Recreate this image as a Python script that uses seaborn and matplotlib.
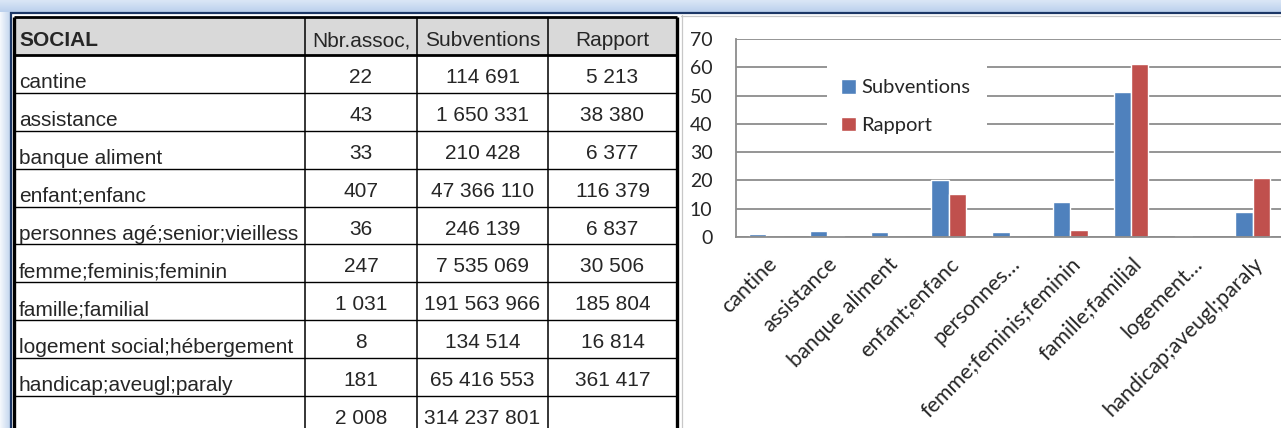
import numpy as np
import pandas as pd
import matplotlib
matplotlib.use("Agg")
import matplotlib.pyplot as plt
from matplotlib.patches import Rectangle
import seaborn as sns

# Donnees du tableau (secteur SOCIAL)
categories = ["cantine", "assistance", "banque aliment", "enfant;enfanc",
              "personnes agé;senior;vieilless", "femme;feminis;feminin",
              "famille;familial", "logement social;hébergement",
              "handicap;aveugl;paraly"]
nbr_assoc = [22, 43, 33, 407, 36, 247, 1031, 8, 181]
subventions = [114691, 1650331, 210428, 47366110, 246139, 7535069,
               191563966, 134514, 65416553]
rapport = [5213, 38380, 6377, 116379, 6837, 30506, 185804, 16814, 361417]
total_assoc = 2008
total_subventions = 314237801
headers = ["SOCIAL", "Nbr.assoc,", "Subventions", "Rapport"]

# Donnees du graphique (pourcentages)
chart_labels = ["cantine", "assistance", "banque aliment", "enfant;enfanc",
                "personnes…", "femme;feminis;feminin", "famille;familial",
                "logement…", "handicap;aveugl;paraly"]
pct_subventions = [1.1, 2.1, 1.6, 20.3, 1.8, 12.3, 51.3, 0.4, 9.0]
pct_rapport = [0.04, 0.5, 0.07, 15.1, 0.08, 2.4, 61.0, 0.04, 20.8]
series_names = ["Subventions", "Rapport"]
yticks = [0, 10, 20, 30, 40, 50, 60, 70]

W, H = 1281, 428
BLUE = "#4f81bd"
RED = "#c0504d"
GRID = "#8c8c8c"


def fmt(v):
    return f"{v:,}".replace(",", " ")


def draw_frame(ax):
    # bandeau bleu de la fenetre (haut et gauche)
    top = np.linspace(0, 1, 12)[:, None] * np.ones((1, 2))
    ax.imshow(top, extent=(0, W, 12, 0), aspect="auto",
              cmap=matplotlib.colors.LinearSegmentedColormap.from_list("t", ["#dae6f6", "#bcd1ed"]))
    left = np.ones((2, 1)) * np.linspace(0, 1, 11)[None, :]
    ax.imshow(left, extent=(0, 11, H, 12), aspect="auto",
              cmap=matplotlib.colors.LinearSegmentedColormap.from_list("l", ["#f3f7fc", "#c2d5ee"]))
    ax.plot([10, W], [12.5, 12.5], color="#1c3766", lw=1.6, solid_capstyle="butt")
    ax.plot([11, 11], [12, H], color="#1c3766", lw=1.6, solid_capstyle="butt")
    ax.plot([681, W], [15.5, 15.5], color="#c8c8c8", lw=0.9)
    ax.plot([681.5, 681.5], [15, H], color="#c8c8c8", lw=0.9)


def draw_table(ax):
    cols = [14, 305, 417, 548, 677]
    row_top = 17
    row_h = 37.9
    n_rows = len(categories) + 2
    ys = [row_top + i * row_h for i in range(n_rows + 1)]

    ax.add_patch(Rectangle((cols[0], ys[0]), cols[-1] - cols[0], row_h,
                           facecolor="#d9d9d9", edgecolor="none"))
    # lignes horizontales
    for i, y in enumerate(ys[:-1]):
        lw = 2.0 if i <= 1 else 1.0
        ax.plot([cols[0], cols[-1]], [y, y], color="black", lw=lw, solid_capstyle="butt")
    # lignes verticales
    for j, x in enumerate(cols):
        lw = 2.4 if j in (0, len(cols) - 1) else 1.1
        ax.plot([x, x], [ys[0], H], color="black", lw=lw, solid_capstyle="butt")

    font = "Liberation Sans"
    fs = 15
    # en-tetes
    hy = ys[0] + 29
    ax.text(cols[0] + 5, hy, headers[0], ha="left", va="baseline",
            fontsize=fs, fontweight="bold", family=font)
    for j in range(1, 4):
        ax.text((cols[j] + cols[j + 1]) / 2, hy, headers[j], ha="center",
                va="baseline", fontsize=fs, family=font)

    # lignes de donnees
    for i, name in enumerate(categories):
        top = ys[i + 1]
        ax.text(cols[0] + 5, top + 33, name, ha="left", va="baseline",
                fontsize=fs, family=font)
        vals = [nbr_assoc[i], subventions[i], rapport[i]]
        for j, v in enumerate(vals):
            ax.text((cols[j + 1] + cols[j + 2]) / 2, top + 28, fmt(v),
                    ha="center", va="baseline", fontsize=fs, family=font)

    # ligne des totaux
    top = ys[len(categories) + 1]
    ax.text((cols[1] + cols[2]) / 2, top + 28, fmt(total_assoc),
            ha="center", va="baseline", fontsize=fs, family=font)
    ax.text((cols[2] + cols[3]) / 2, top + 28, fmt(total_subventions),
            ha="center", va="baseline", fontsize=fs, family=font)


def draw_chart(fig):
    x0, x1, y0, y1 = 736, 1283, 39, 237
    ax = fig.add_axes([x0 / W, 1 - y1 / H, (x1 - x0) / W, (y1 - y0) / H])

    df = pd.DataFrame({
        "categorie": chart_labels * 2,
        "pourcentage": pct_subventions + pct_rapport,
        "serie": [series_names[0]] * len(chart_labels) + [series_names[1]] * len(chart_labels),
    })
    sns.barplot(data=df, x="categorie", y="pourcentage", hue="serie",
                palette=[BLUE, RED], width=0.57, saturation=1,
                errorbar=None, ax=ax)

    ax.set_xlim(-0.5, len(chart_labels) - 0.5)
    ax.set_ylim(0, 70)
    ax.set_yticks(yticks)
    ax.set_axisbelow(True)
    ax.yaxis.grid(True, color=GRID, lw=1.3)
    ax.xaxis.grid(False)
    ax.set_xlabel("")
    ax.set_ylabel("")
    for s in ["top", "right"]:
        ax.spines[s].set_visible(False)
    for s in ["left", "bottom"]:
        ax.spines[s].set_color(GRID)
        ax.spines[s].set_linewidth(1.3)

    chart_font = "Lato"
    ax.set_xticks(range(len(chart_labels)))
    ax.set_xticklabels(chart_labels, rotation=45, ha="right",
                       rotation_mode="anchor", fontsize=15.5, family=chart_font)
    ax.set_xticks(np.arange(-0.5, len(chart_labels)), minor=True)
    ax.tick_params(axis="x", which="major", length=0, pad=12)
    ax.tick_params(axis="x", which="minor", length=6, width=1.3, color=GRID)
    ax.tick_params(axis="y", length=6, width=1.3, color=GRID, pad=11)
    for t in ax.get_yticklabels():
        t.set_family(chart_font)
        t.set_fontsize(14)

    # legende a l'interieur, fond blanc qui coupe le quadrillage
    handles, labels = ax.get_legend_handles_labels()
    ax.get_legend().remove()
    ax.add_patch(Rectangle((827 / W, 1 - 141 / H), 160 / W, 83 / H,
                           transform=fig.transFigure, facecolor="white",
                           edgecolor="none", zorder=2, clip_on=False))
    leg = ax.legend(handles, labels, loc="upper left",
                    bbox_to_anchor=(841 / W, 1 - 79 / H),
                    bbox_transform=fig.transFigure, frameon=False,
                    prop={"family": chart_font, "size": 14.5},
                    handlelength=0.75, handleheight=0.75, handletextpad=0.25,
                    labelspacing=1.0, borderpad=0, borderaxespad=0)
    leg.set_zorder(5)
    return ax


def main():
    sns.set_theme(style="white")
    plt.rcParams["font.family"] = ["Liberation Sans", "DejaVu Sans"]
    fig = plt.figure(figsize=(W / 100, H / 100), dpi=100, facecolor="white")

    ax_bg = fig.add_axes([0, 0, 1, 1], zorder=0)
    ax_bg.set_xlim(0, W)
    ax_bg.set_ylim(H, 0)
    ax_bg.axis("off")
    draw_frame(ax_bg)
    draw_table(ax_bg)

    draw_chart(fig)

    fig.savefig("out.png", dpi=100, facecolor="white")
    plt.close(fig)


if __name__ == "__main__":
    main()
